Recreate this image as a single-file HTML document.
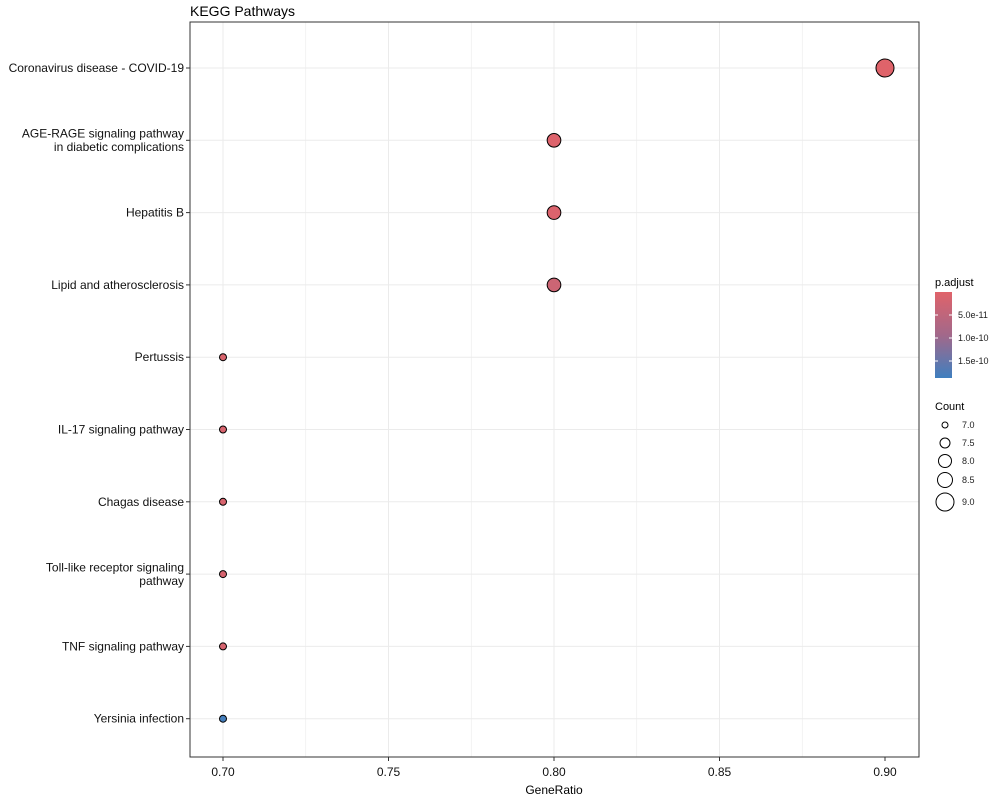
<!DOCTYPE html>
<html><head><meta charset="utf-8"><style>
body{margin:0;background:#fff;font-family:"Liberation Sans",Arial,sans-serif}
</style></head><body>
<svg id="c" width="1000" height="800" xmlns="http://www.w3.org/2000/svg" font-family="Liberation Sans, Arial, sans-serif">
<defs><linearGradient id="g" x1="0" y1="0" x2="0" y2="1"><stop offset="0" stop-color="#e0636a"/><stop offset="0.5" stop-color="#a2688a"/><stop offset="1" stop-color="#3f7fbf"/></linearGradient></defs>
<text x="190" y="16" font-size="14">KEGG Pathways</text>
<g id="grid"></g><g id="pts"></g>
<rect x="190" y="22" width="729" height="735" fill="none" stroke="#333" stroke-width="1"/>
<g id="axes"></g>
<text x="554" y="794" font-size="12" text-anchor="middle">GeneRatio</text>
<g>
<text x="935" y="286" font-size="11">p.adjust</text>
<rect x="935" y="292" width="17" height="86" fill="url(#g)"/>
<g stroke="#fff" stroke-width="1"><line x1="935" x2="938" y1="315" y2="315"/><line x1="949" x2="952" y1="315" y2="315"/><line x1="935" x2="938" y1="338" y2="338"/><line x1="949" x2="952" y1="338" y2="338"/><line x1="935" x2="938" y1="361" y2="361"/><line x1="949" x2="952" y1="361" y2="361"/></g>
<g font-size="9" fill="#222"><text x="958" y="318">5.0e-11</text><text x="958" y="341">1.0e-10</text><text x="958" y="364">1.5e-10</text></g>
</g>
<g>
<text x="935" y="410" font-size="11">Count</text>
<g fill="#fff" stroke="#000"><circle cx="945" cy="425" r="3"/><circle cx="945" cy="443" r="5"/><circle cx="945" cy="461" r="6.5"/><circle cx="945" cy="480" r="7.5"/><circle cx="945" cy="502" r="9"/></g>
<g font-size="9" fill="#222"><text x="962" y="428">7.0</text><text x="962" y="446">7.5</text><text x="962" y="464">8.0</text><text x="962" y="483">8.5</text><text x="962" y="505">9.0</text></g>
</g>
</svg>
<script>
const categories=[["Coronavirus disease - COVID-19"],["AGE-RAGE signaling pathway","in diabetic complications"],["Hepatitis B"],["Lipid and atherosclerosis"],["Pertussis"],["IL-17 signaling pathway"],["Chagas disease"],["Toll-like receptor signaling","pathway"],["TNF signaling pathway"],["Yersinia infection"]];
const geneRatio=[0.9,0.8,0.8,0.8,0.7,0.7,0.7,0.7,0.7,0.7];
const counts=[9,8,8,8,7,7,7,7,7,7];
const pAdjust=[1e-12,5e-12,8e-12,3e-11,1e-11,1.2e-11,1.2e-11,1.5e-11,1.5e-11,1.8e-10];
const xTicks=["0.70","0.75","0.80","0.85","0.90"];
const NS="http://www.w3.org/2000/svg";
const xs=v=>223+(v-0.7)/0.2*662;
const ys=i=>68+i*72.3;
const rs=c=>Math.sqrt(12.25+(c-7)/2*(81-12.25));
function col(p){const t=Math.min(1,Math.max(0,p/1.85e-10));const a=[224,99,106],m=[162,104,138],b=[63,127,191];let c;if(t<0.5){const u=t/0.5;c=a.map((v,k)=>v+(m[k]-v)*u);}else{const u=(t-0.5)/0.5;c=m.map((v,k)=>v+(b[k]-v)*u);}return`rgb(${c.map(Math.round).join(",")})`;}
function mk(tag,at,par){const e=document.createElementNS(NS,tag);for(const k in at)e.setAttribute(k,at[k]);document.getElementById(par).appendChild(e);return e;}
const grid="grid",ax="axes";
for(let i=0;i<9;i++){const v=0.675+i*0.025;const x=xs(v);if(x>190&&x<919){const l=mk("line",{x1:x,x2:x,y1:22,y2:757,stroke:"#ebebeb","stroke-width":i%2?1:0.6},grid);}}
categories.forEach((c,i)=>{const y=ys(i);const l=mk("line",{x1:190,x2:919,y1:y,y2:y,stroke:"#ebebeb"},grid);
mk("line",{x1:186,x2:190,y1:y,y2:y,stroke:"#333"},ax);
const t=mk("text",{x:184,"font-size":12,"text-anchor":"end",fill:"#111"},ax);


const n=c.length;c.forEach((s,j)=>{const ts=document.createElementNS(NS,"tspan");ts.setAttribute("x",184);ts.setAttribute("y",y+4+(j-(n-1)/2)*13.5);ts.textContent=s;t.appendChild(ts);});
const p=mk("circle",{cx:xs(geneRatio[i]),cy:y,r:rs(counts[i]),fill:col(pAdjust[i]),stroke:"#000","stroke-width":1},"pts");

});
xTicks.forEach(s=>{const x=xs(parseFloat(s));mk("line",{x1:x,x2:x,y1:757,y2:761,stroke:"#333"},ax);const t=mk("text",{x:x,y:776,"font-size":12,"text-anchor":"middle",fill:"#111"},ax);t.textContent=s;

});
</script>
</body></html>
